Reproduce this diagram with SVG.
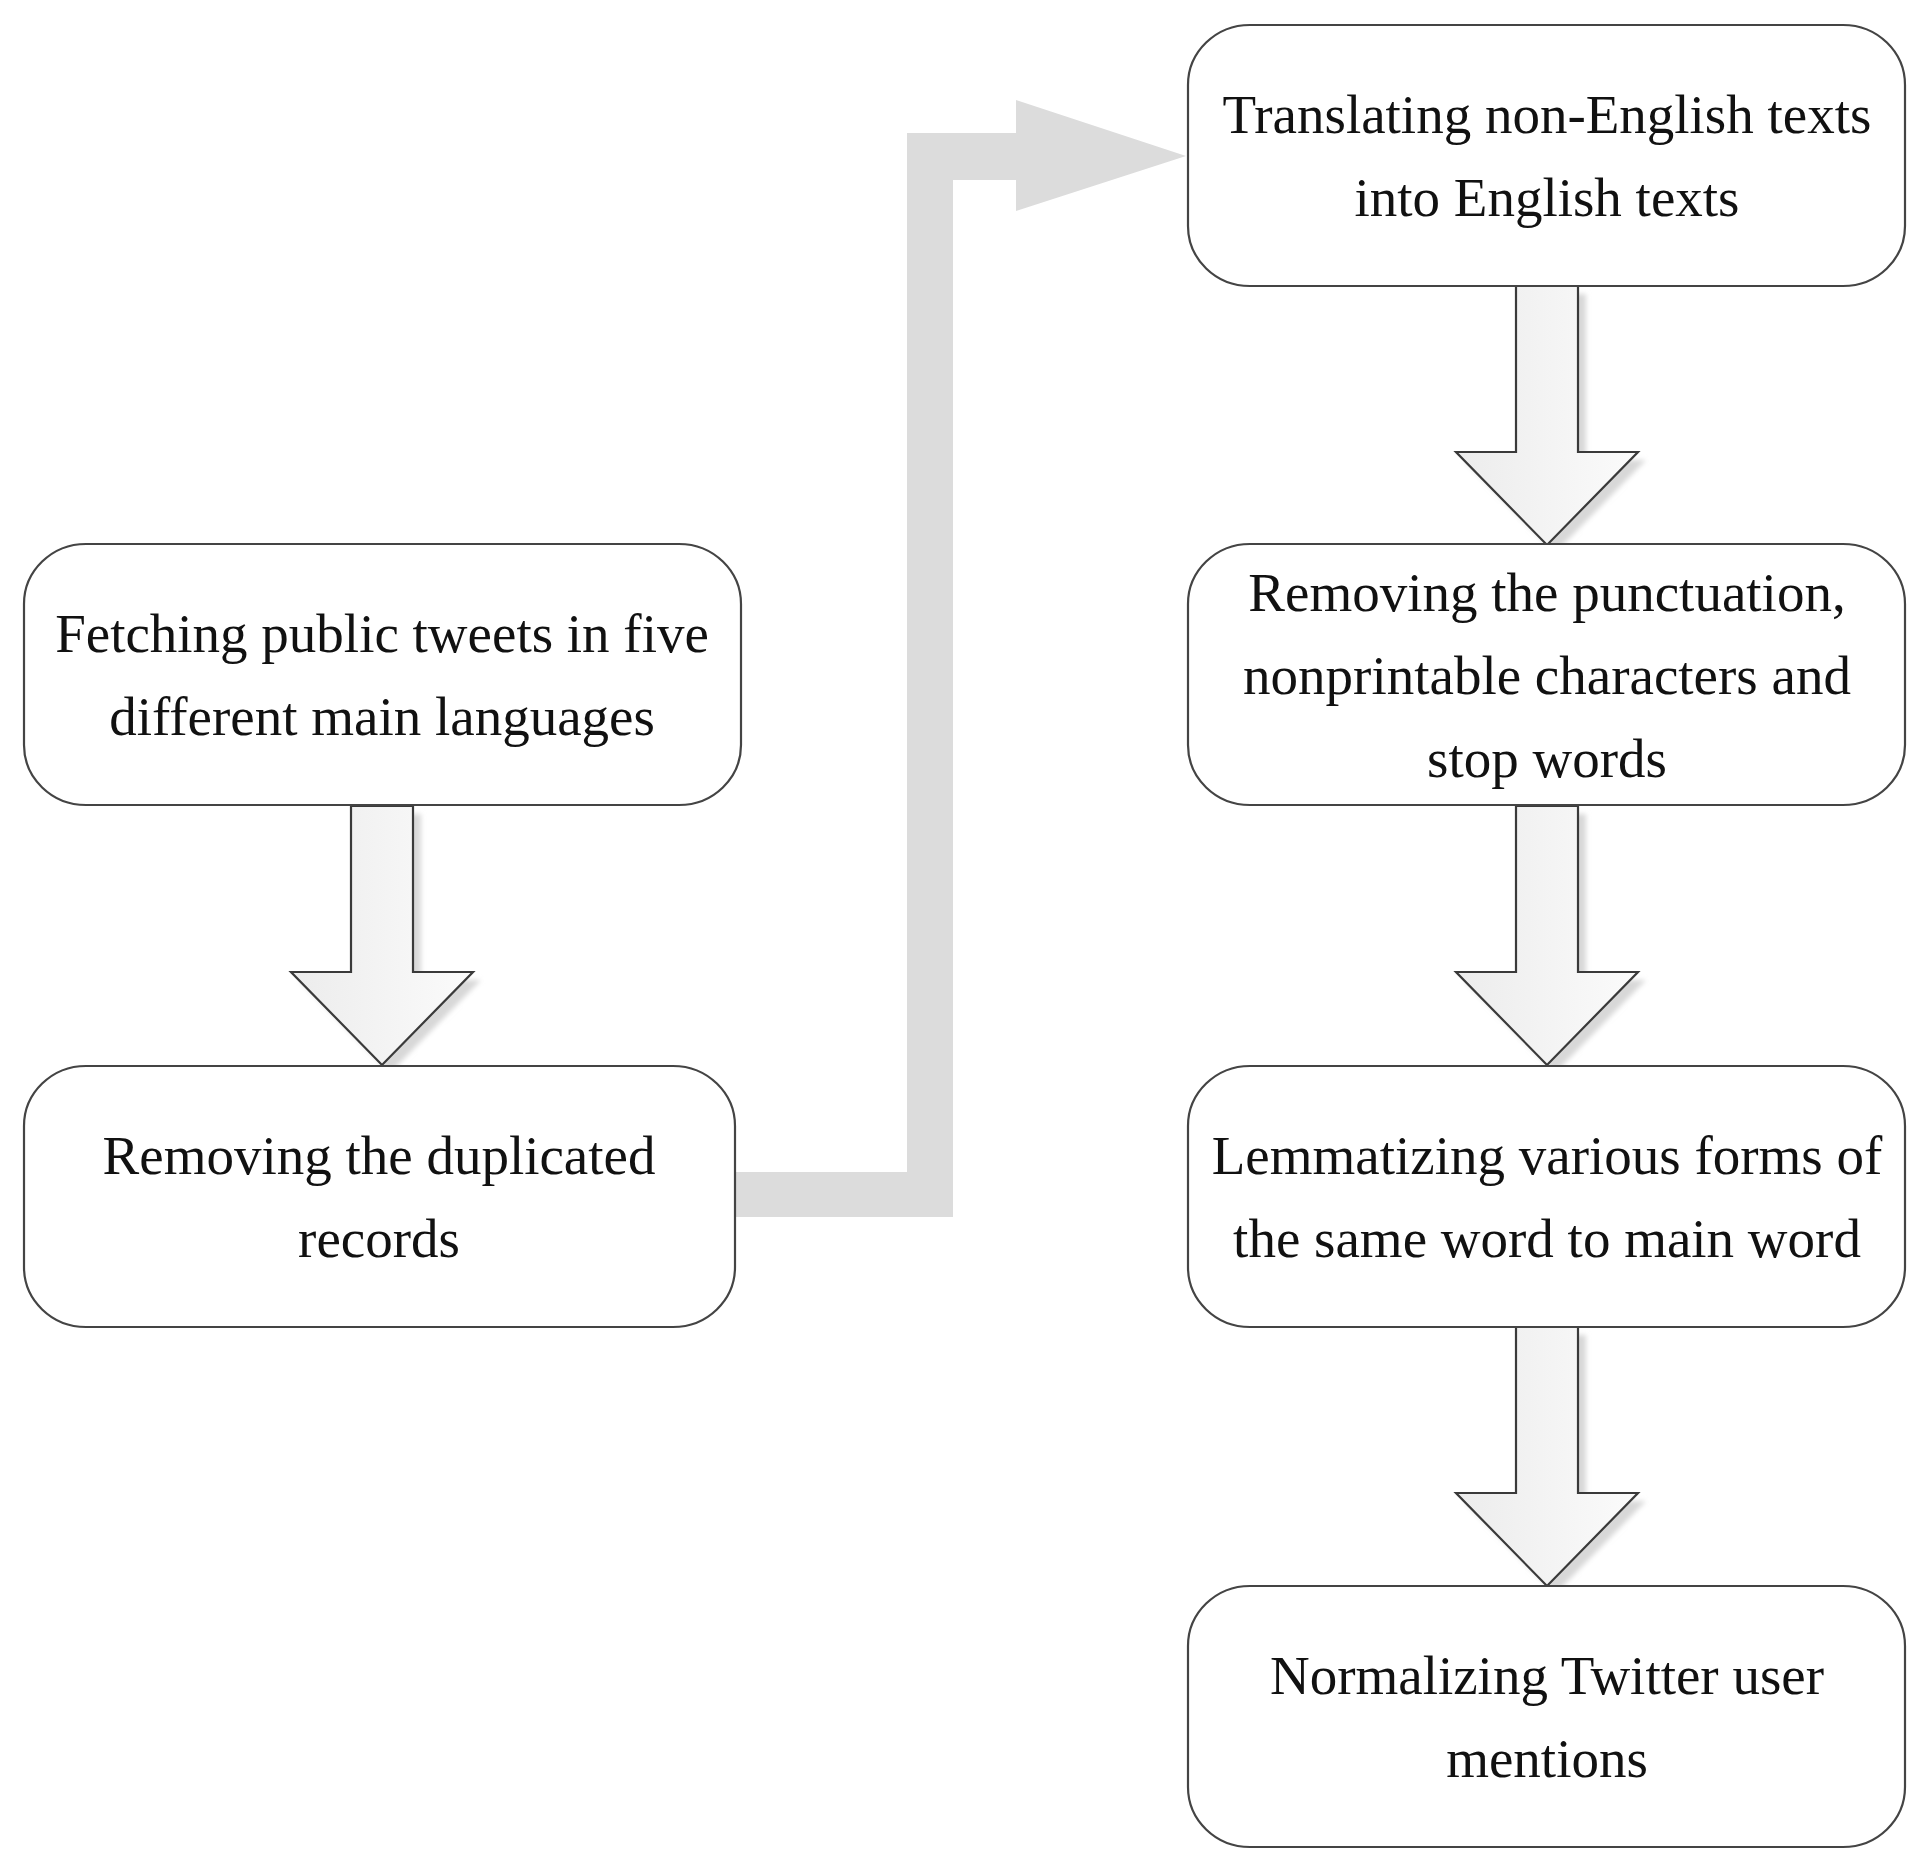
<svg xmlns="http://www.w3.org/2000/svg" width="1926" height="1874" viewBox="0 0 1926 1874">
<style>
.box{fill:#ffffff;stroke:#444444;stroke-width:2.2}
.lbl{font-family:"Liberation Serif","Times New Roman",serif;font-size:55px;fill:#111111;text-anchor:middle}
.arr{fill:url(#ag);stroke:#3a3a3a;stroke-width:2.2;stroke-linejoin:miter}
.shd{fill:#d8d8d8;filter:url(#blur)}
.elbow{fill:#dcdcdc}
</style>
<defs>
<linearGradient id="ag" x1="0" y1="0" x2="1" y2="0">
<stop offset="0" stop-color="#ececec"/>
<stop offset="1" stop-color="#fbfbfb"/>
</linearGradient>
<filter id="blur" x="-20%" y="-20%" width="140%" height="140%">
<feGaussianBlur stdDeviation="2.5"/>
</filter>
<path id="downArrow" d="M-31,0 L31,0 L31,166 L91,166 L0,259 L-91,166 L-31,166 Z"/>
</defs>
<rect width="1926" height="1874" fill="#ffffff"/>

<g id="connectors">
<polygon class="elbow" points="735,1217 953,1217 953,180 1016,180 1016,211 1186,156 1016,100 1016,133 907,133 907,1172 735,1172"/>
<g transform="translate(382,806)">
<use href="#downArrow" class="shd" transform="translate(8,8)"/>
<use href="#downArrow" class="arr"/>
</g>
<g transform="translate(1547,286)">
<use href="#downArrow" class="shd" transform="translate(8,8)"/>
<use href="#downArrow" class="arr"/>
</g>
<g transform="translate(1547,806)">
<use href="#downArrow" class="shd" transform="translate(8,8)"/>
<use href="#downArrow" class="arr"/>
</g>
<g transform="translate(1547,1327)">
<use href="#downArrow" class="shd" transform="translate(8,8)"/>
<use href="#downArrow" class="arr"/>
</g>
</g>

<g id="node-fetching">
<rect class="box" x="24" y="544" width="717" height="261" rx="62" ry="60"/>
<text class="lbl" x="382" y="652">Fetching public tweets in five</text>
<text class="lbl" x="382" y="735">different main languages</text>
</g>

<g id="node-duplicates">
<rect class="box" x="24" y="1066" width="711" height="261" rx="62" ry="60"/>
<text class="lbl" x="379" y="1174">Removing the duplicated</text>
<text class="lbl" x="379" y="1257">records</text>
</g>

<g id="node-translating">
<rect class="box" x="1188" y="25" width="717" height="261" rx="62" ry="60"/>
<text class="lbl" x="1547" y="133">Translating non-English texts</text>
<text class="lbl" x="1547" y="216">into English texts</text>
</g>

<g id="node-punctuation">
<rect class="box" x="1188" y="544" width="717" height="261" rx="62" ry="60"/>
<text class="lbl" x="1547" y="611">Removing the punctuation,</text>
<text class="lbl" x="1547" y="694">nonprintable characters and</text>
<text class="lbl" x="1547" y="777">stop words</text>
</g>

<g id="node-lemmatizing">
<rect class="box" x="1188" y="1066" width="717" height="261" rx="62" ry="60"/>
<text class="lbl" x="1547" y="1174">Lemmatizing various forms of</text>
<text class="lbl" x="1547" y="1257">the same word to main word</text>
</g>

<g id="node-normalizing">
<rect class="box" x="1188" y="1586" width="717" height="261" rx="62" ry="60"/>
<text class="lbl" x="1547" y="1694">Normalizing Twitter user</text>
<text class="lbl" x="1547" y="1777">mentions</text>
</g>
</svg>
